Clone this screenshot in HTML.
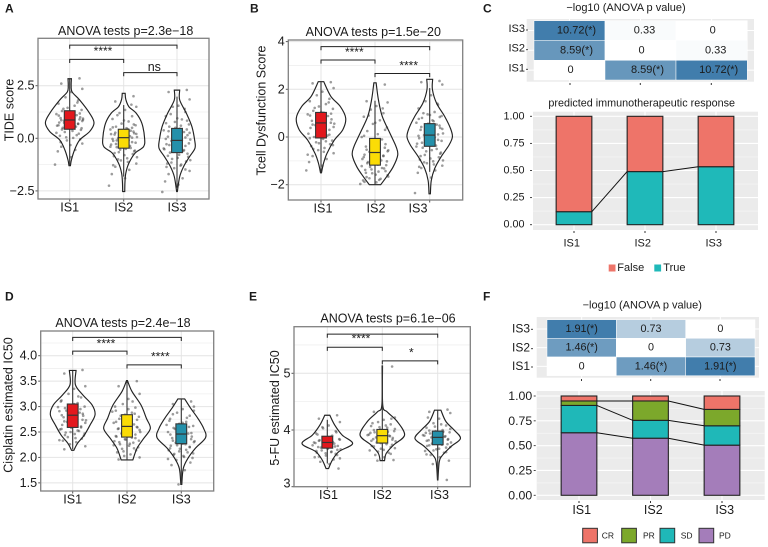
<!DOCTYPE html>
<html>
<head>
<meta charset="utf-8">
<title>Immune subtype comparison panels</title>
<style>
html,body{margin:0;padding:0;background:#fff;width:768px;height:547px;overflow:hidden}
svg{display:block;font-family:"Liberation Sans",Arial,sans-serif}
</style>
</head>
<body>
<svg id="fig" xmlns="http://www.w3.org/2000/svg" width="768" height="547" viewBox="0 0 768 547"></svg>
<script>
const groups = ['IS1', 'IS2', 'IS3'];
const boxColors = ['#e2181d', '#fbdc06', '#2490aa'];
const pointJitter = [.7,-.6,.9,.1,-.3,.6,-.8,.35,-.15,.85,-.55,.2,-.95,.5,-.25,.75,-.65,.05,.95,-.4,.3,-.75,.6,-.1,-.9,.45,-.5,.15,.8,-.35,.65,-.7,.25,-.2,.9,-.6,.4,-.85,.1,-1.05,.55,-.45,.02,.72,-.78,.28,-.12];

/* Panel A: TIDE score */
const aTicks = [-2.5, 0, 2.5];
const aTickLabels = ['−2.5', '0.0', '2.5'];
const aMinorTicks = [-1.25, 1.25, 3.75];
const aPeaks = [1, .86, .74];
const aDensity = [
  [[2.83,.07],[2.5,.06],[2.2,.1],[1.82,.41],[1.19,.82],[.74,1],[.32,.82],[-.08,.41],[-.55,.2],[-1.03,.07],[-1.3,.03]],
  [[2.14,.07],[1.85,.1],[1.5,.25],[1.19,.6],[.71,.87],[0,1],[-.4,.95],[-.7,.55],[-1.2,.24],[-1.66,.1],[-2.1,.06],[-2.53,.05]],
  [[2.29,.15],[1.82,.15],[1.19,.52],[.55,.83],[-.08,.98],[-.47,1],[-.87,.7],[-1.34,.37],[-1.82,.15],[-2.53,.02]]
];
const aBoxes = [[.43,.87,1.31,-1.3,2.83],[-.47,.03,.43,-1.82,1.58],[-.68,-.1,.47,-2.35,1.98]];
const aPoints = [
  [2.85,2.6,2.35,2.2,1.95,1.8,1.65,1.55,1.45,1.35,1.3,1.22,1.15,1.1,1.05,1,.96,.92,.88,.84,.8,.75,.7,.66,.6,.55,.5,.45,.4,.3,.22,.12,.02,-.1,-.25,-.4,-.55,-.62,-.9,-1.25,1.7,1.4,1.28,1.18,1.08,1.02,.98,.9,.86,.82,.78,.72,.68,.62,.58,.52,.48,.42,.35,.26,.15,.05,-.05,-.18,-.32,.94,.74,1.12],
  [2,1.75,1.5,1.35,1.2,1.05,.92,.8,.7,.62,.55,.48,.42,.36,.3,.24,.18,.12,.06,0,-.06,-.12,-.18,-.24,-.3,-.36,-.42,-.5,-.58,-.66,-.75,-.85,-.95,-1.05,-1.2,-1.35,-1.5,-1.7,-1.9,-2.25,1.6,1.1,.85,.66,.52,.44,.38,.32,.27,.21,.15,.09,.03,-.03,-.09,-.15,-.21,-.27,-.33,-.4,-.46,-.54,-.62,-.7,-.8,-.9,-1,-1.12,-1.28,.5,.35,.2,.1,-.1,-.25],
  [2.3,2.2,1.85,1.55,1.5,1.25,1.05,.9,.78,.66,.55,.46,.38,.3,.22,.15,.08,0,-.06,-.12,-.2,-.28,-.36,-.44,-.52,-.6,-.68,-.78,-.88,-.98,-1.1,-1.2,-1.3,-1.42,-1.55,-1.7,-1.9,-2.05,-2.2,-2.55,1.4,1.15,.95,.84,.72,.6,.5,.42,.34,.26,.18,.11,.04,-.03,-.09,-.16,-.24,-.32,-.4,-.48,-.56,-.64,-.73,-.83,-.93,-1.04,-1.15,-1.25,-1.36,-1.48]
];
const aBrackets = [[0,2,4.43],[0,1,3.75],[1,2,3.12]];

/* Panel B: Tcell Dysfunction Score */
const bTicks = [-2, 0, 2, 4];
const bTickLabels = ['−2', '0', '2', '4'];
const bMinorTicks = [-1, 1, 3];
const bPeaks = [1, .92, .92];
const bDensity = [
  [[2.32,.11],[1.7,.4],[1.28,.78],[.79,1],[.3,.88],[-.13,.54],[-.69,.24],[-1.11,.1],[-1.5,.02]],
  [[2.27,.05],[1.56,.15],[.86,.32],[.15,.66],[-.41,.93],[-.76,1],[-1.25,.8],[-1.68,.5],[-2,.25]],
  [[2.42,.13],[1.99,.12],[1.42,.3],[.86,.66],[.37,.91],[.01,1],[-.34,.85],[-.83,.5],[-1.32,.22],[-1.82,.07],[-2.38,.03]]
];
const bBoxes = [[-.04,.59,1.03,-1.5,2.3],[-1.18,-.65,-.06,-2,1.52],[-.39,.08,.56,-1.46,2.05]];
const bPoints = [
  [2.3,2.25,2.05,1.9,1.75,1.6,1.5,1.38,1.28,1.18,1.1,1.02,.95,.88,.8,.74,.68,.62,.56,.5,.44,.38,.3,.22,.14,.06,0,-.08,-.15,-.22,-.3,-.38,-.46,-.55,-.68,-.8,-.92,-1.05,-1.2,-1.4,1.45,1.22,1.05,.98,.9,.84,.7,.6,.52,.42,.34,.25,.1,-.05,-.18,-.26,-.34,-.5,-.62,-.74],
  [2.2,1.5,1.45,1.3,1.15,1,.85,.7,.55,.4,.25,.12,0,-.1,-.2,-.3,-.4,-.5,-.56,-.62,-.68,-.74,-.8,-.86,-.92,-.98,-1.05,-1.12,-1.18,-1.25,-1.32,-1.38,-1.45,-1.52,-1.6,-1.68,-1.75,-1.82,-1.9,-1.97,1.2,.9,.6,.3,.05,-.15,-.35,-.45,-.53,-.6,-.66,-.72,-.78,-.84,-.9,-.96,-1.02,-1.1,-1.16,-1.22,-1.3,-1.36,-1.43,-1.5,-1.58,-1.66,-1.73,-1.8,-1.88],
  [2.35,2.3,2.2,1.75,1.5,1.35,1.2,1.05,.95,.88,.8,.7,.6,.52,.45,.38,.3,.22,.15,.08,.02,-.05,-.12,-.2,-.28,-.36,-.45,-.55,-.65,-.75,-.85,-.95,-1.02,-1.1,-1.2,-1.3,-1.4,-1.5,-1.7,-2.35,1.4,1,.92,.84,.76,.66,.56,.48,.42,.34,.26,.18,.11,.05,-.02,-.08,-.16,-.24,-.32,-.4,-.5,-.6,-.7,-.8,-.9,-.98,-1.06,-1.15,-1.25]
];
const bBrackets = [[0,2,3.79],[0,1,3.23],[1,2,2.66]];

/* Panel D: Cisplatin estimated IC50 */
const dTicks = [1.5, 2, 2.5, 3, 3.5, 4];
const dTickLabels = ['1.5', '2.0', '2.5', '3.0', '3.5', '4.0'];
const dMinorTicks = [1.75, 2.25, 2.75, 3.25, 3.75, 4.25];
const dPeaks = [.92, .96, 1];
const dDensity = [
  [[3.71,.15],[3.43,.12],[3.23,.45],[3.03,.87],[2.84,1],[2.64,.78],[2.44,.52],[2.28,.22],[2.14,.05]],
  [[3.51,.02],[3.3,.21],[3.03,.6],[2.77,.83],[2.57,1],[2.37,.71],[2.18,.43],[1.95,.25]],
  [[3.15,.14],[2.97,.38],[2.77,.68],[2.57,.92],[2.39,1],[2.18,.58],[1.98,.27],[1.78,.08],[1.47,.02]]
];
const dBoxes = [[2.59,2.83,3.05,2.16,3.7],[2.4,2.61,2.84,1.95,3.5],[2.27,2.46,2.66,1.47,3.15]];
const dPoints = [
  [3.72,3.65,3.4,3.35,3.25,3.18,3.12,3.07,3.03,3,2.97,2.94,2.91,2.88,2.85,2.82,2.79,2.76,2.73,2.7,2.67,2.64,2.61,2.58,2.55,2.52,2.49,2.46,2.43,2.4,2.37,2.33,2.3,2.26,2.22,2.16,3.2,3.1,3.05,2.99,2.95,2.92,2.89,2.86,2.83,2.8,2.77,2.74,2.71,2.68,2.65,2.62,2.59,2.56,2.53,2.5,2.47,2.44,2.38,2.34],
  [3.5,3.4,3.25,3.15,3.05,2.98,2.92,2.88,2.84,2.8,2.76,2.72,2.68,2.65,2.62,2.59,2.56,2.53,2.5,2.47,2.44,2.41,2.38,2.35,2.32,2.29,2.26,2.23,2.2,2.17,2.14,2.1,2.06,2.03,2,1.96,3.1,3,2.95,2.9,2.86,2.82,2.78,2.74,2.7,2.66,2.63,2.6,2.57,2.54,2.51,2.48,2.45,2.42,2.39,2.36,2.33,2.3,2.27,2.24,2.18,2.12],
  [3.1,3.05,3,2.95,2.88,2.82,2.76,2.7,2.66,2.62,2.58,2.54,2.5,2.47,2.44,2.41,2.38,2.35,2.32,2.29,2.26,2.23,2.2,2.17,2.14,2.1,2.07,2.03,1.99,1.95,1.9,1.85,1.75,1.47,2.92,2.85,2.78,2.72,2.68,2.64,2.6,2.56,2.52,2.48,2.45,2.42,2.39,2.36,2.33,2.3,2.27,2.24,2.21,2.18,2.15,2.12,2.08,2.05,2.01,1.97]
];
const dBrackets = [[0,2,4.36],[0,1,4.09],[1,2,3.82]];

/* Panel E: 5-FU estimated IC50 */
const eTicks = [3, 4, 5];
const eTickLabels = ['3', '4', '5'];
const eMinorTicks = [3.5, 4.5, 5.5];
const ePeaks = [1, .88, .9];
const eDensity = [
  [[4.26,.1],[4.09,.29],[3.91,.59],[3.76,1],[3.62,.46],[3.47,.2],[3.32,.05]],
  [[5.13,.01],[4.44,.02],[4.32,.22],[4.15,.67],[3.91,1],[3.74,.52],[3.59,.18],[3.46,.1]],
  [[4.35,.14],[4.15,.36],[4,.72],[3.85,1],[3.71,.59],[3.56,.22],[3.44,.07],[3.12,.01]]
];
const eBoxes = [[3.68,3.78,3.89,3.41,4.18],[3.77,3.9,4.01,3.46,5.13],[3.74,3.87,3.98,3.12,4.35]];
const ePoints = [
  [4.26,4.2,4.14,4.08,4.03,3.98,3.94,3.9,3.87,3.84,3.82,3.8,3.78,3.76,3.74,3.72,3.7,3.68,3.66,3.64,3.62,3.6,3.58,3.55,3.52,3.48,3.44,3.4,3.32,4.05,3.96,3.92,3.88,3.85,3.83,3.81,3.79,3.77,3.75,3.73,3.71,3.69,3.67,3.65,3.63,3.61,3.59,3.56,3.53,3.5],
  [5.12,4.32,4.22,4.18,4.14,4.1,4.07,4.04,4.01,3.98,3.96,3.94,3.92,3.9,3.88,3.86,3.84,3.82,3.8,3.78,3.75,3.72,3.7,3.67,3.64,3.6,3.56,3.52,3.47,3.46,4.2,4.12,4.08,4.05,4.02,4,3.97,3.95,3.93,3.91,3.89,3.87,3.85,3.83,3.81,3.79,3.77,3.74,3.71,3.68,3.65,3.62,3.58],
  [4.36,4.32,4.3,4.2,4.12,4.08,4.04,4,3.98,3.96,3.94,3.92,3.9,3.88,3.86,3.84,3.82,3.8,3.78,3.76,3.74,3.72,3.69,3.66,3.63,3.6,3.56,3.52,3.46,3.4,3.12,4.22,4.1,4.06,4.02,3.99,3.97,3.95,3.93,3.91,3.89,3.87,3.85,3.83,3.81,3.79,3.77,3.75,3.73,3.7,3.67,3.64,3.61,3.57]
];
const eBrackets = [[0,2,5.69],[0,1,5.46],[1,2,5.22]];

/* Panel C: heatmap and stacked bars */
const cHeatValues = [[10.72,.33,0],[8.59,0,.33],[0,8.59,10.72]];
const cHeatLabels = [['10.72(*)','0.33','0'],['8.59(*)','0','0.33'],['0','8.59(*)','10.72(*)']];
const cStackNames = ['True', 'False'];
const cStackValues = [[.12,.88],[.49,.51],[.535,.465]];
const cStackColors = ['#1fb9b9', '#ee7469'];

/* Panel F: heatmap and stacked bars */
const fHeatValues = [[1.91,.73,0],[1.46,0,.73],[0,1.46,1.91]];
const fHeatLabels = [['1.91(*)','0.73','0'],['1.46(*)','0','0.73'],['0','1.46(*)','1.91(*)']];
const fStackNames = ['PD', 'SD', 'PR', 'CR'];
const fStackValues = [[.63,.275,.045,.05],[.575,.18,.195,.05],[.505,.195,.165,.135]];
const fStackColors = ['#a47dba', '#1fb8b8', '#7ca82b', '#ee7469'];
const stackTicks = [0, .25, .5, .75, 1];
const stackMinorTicks = [.125, .375, .625, .875];
const stackTickLabels = ['0.00', '0.25', '0.50', '0.75', '1.00'];

const svg = document.getElementById('fig');
const NS = 'http://www.w3.org/2000/svg';

function shape(tag, attrs, parent) {
  const node = document.createElementNS(NS, tag);
  for (const k in attrs) node.setAttribute(k, attrs[k]);
  (parent || svg).appendChild(node);
  return node;
}
function label(str, x, y, size, anchor, rot, weight) {
  const attrs = {x: x, y: y, 'font-size': size, 'text-anchor': anchor || 'middle', fill: '#1a1a1a', 'dominant-baseline': 'central'};
  if (rot) attrs.transform = 'rotate(-90 ' + x + ' ' + y + ')';
  if (weight) attrs['font-weight'] = weight;
  const t = shape('text', attrs);
  t.textContent = str;
  return t;
}
function linearScale(v0, p0, v1, p1) {
  return function (v) { return p0 + (v - v0) * (p1 - p0) / (v1 - v0); };
}
function smoothSide(pts) {
  let d = '';
  for (let i = 0; i < pts.length - 1; i++) {
    const p0 = pts[Math.max(i - 1, 0)], p1 = pts[i], p2 = pts[i + 1], p3 = pts[Math.min(i + 2, pts.length - 1)];
    const c1 = [p1[0] + (p2[0] - p0[0]) / 6, p1[1] + (p2[1] - p0[1]) / 6];
    const c2 = [p2[0] - (p3[0] - p1[0]) / 6, p2[1] - (p3[1] - p1[1]) / 6];
    d += 'C' + c1[0].toFixed(2) + ' ' + c1[1].toFixed(2) + ' ' + c2[0].toFixed(2) + ' ' + c2[1].toFixed(2) + ' ' + p2[0].toFixed(2) + ' ' + p2[1].toFixed(2);
  }
  return d;
}

function violinPanel(cfg) {
  const y = linearScale(cfg.v0, cfg.p0, cfg.v1, cfg.p1);
  const bg = shape('rect', {x: cfg.left, y: cfg.top, width: cfg.right - cfg.left, height: cfg.bottom - cfg.top, fill: '#fff'});
  
  
  cfg.minor.forEach(function (v) {
    const g = shape('line', {x1: cfg.left, x2: cfg.right, y1: y(v), y2: y(v), stroke: '#efefef', 'stroke-width': .8});
    
    
  });
  cfg.ticks.forEach(function (v, i) {
    const g = shape('line', {x1: cfg.left, x2: cfg.right, y1: y(v), y2: y(v), stroke: '#e4e4e4', 'stroke-width': 1});
    
    
    const tk = shape('line', {x1: cfg.left - 2.5, x2: cfg.left, y1: y(v), y2: y(v), stroke: '#555', 'stroke-width': 1});
    
    
    const t = label(cfg.tickLabels[i], cfg.left - 3.5, Math.min(y(v), cfg.bottom - 3), 12.6, 'end');
    
    
  });
  groups.forEach(function (gName, i) {
    const cx = cfg.xs[i];
    const g = shape('line', {x1: cx, x2: cx, y1: cfg.top, y2: cfg.bottom, stroke: '#e4e4e4', 'stroke-width': 1});
    
    
    const tk = shape('line', {x1: cx, x2: cx, y1: cfg.bottom, y2: cfg.bottom + 2.5, stroke: '#555', 'stroke-width': 1});
    
    
    const t = label(gName, cfg.labelXs[i], cfg.bottom + 8.5, 12.6);
    
    
  });
  groups.forEach(function (gName, i) {
    const cx = cfg.xs[i];
    cfg.points[i].forEach(function (v, j) {
      const c = shape('circle', {cx: cx + pointJitter[j % pointJitter.length] * 14, cy: y(v), r: 1.3, fill: '#3a3a3a', 'fill-opacity': .5});
      
      
    });
    const dens = cfg.density[i];
    const w = cfg.halfWidth * cfg.peaks[i];
    const right = dens.map(function (d) { return [cx + d[1] * w, y(d[0])]; });
    const left = dens.map(function (d) { return [cx - d[1] * w, y(d[0])]; }).reverse();
    const d = 'M' + right[0][0] + ' ' + right[0][1] + smoothSide(right) + 'L' + left[0][0] + ' ' + left[0][1] + smoothSide(left) + 'Z';
    const vio = shape('path', {d: d, fill: 'none', stroke: '#222', 'stroke-width': 1.15});
    
    
    const b = cfg.boxes[i];
    const wh = shape('line', {x1: cx, x2: cx, y1: y(b[3]), y2: y(b[4]), stroke: '#333', 'stroke-width': 1.1});
    
    
    const r = shape('rect', {x: cx - 5.4, y: y(b[2]), width: 10.8, height: y(b[0]) - y(b[2]), fill: boxColors[i], stroke: '#333', 'stroke-width': 1.1});
    
    
    const m = shape('line', {x1: cx - 5.4, x2: cx + 5.4, y1: y(b[1]), y2: y(b[1]), stroke: '#333', 'stroke-width': 1.2});
    
    
  });
  cfg.brackets.forEach(function (br) {
    const py = y(br[2]);
    const p = shape('path', {d: 'M' + cfg.xs[br[0]] + ' ' + (py + 3.6) + 'V' + py + 'H' + cfg.xs[br[1]] + 'V' + (py + 3.6), fill: 'none', stroke: '#222', 'stroke-width': 1});
    
    
  });
  cfg.sig.forEach(function (s) {
    const t = label(s[0], s[1], s[2], s[0] === 'ns' ? 12.5 : 12);
    
    
  });
  const border = shape('rect', {x: cfg.left, y: cfg.top, width: cfg.right - cfg.left, height: cfg.bottom - cfg.top, fill: 'none', stroke: '#808080', 'stroke-width': 1.3});
  
  
  const title = label(cfg.title, cfg.titleX, cfg.titleY, 12.5);
  
  
  const yt = label(cfg.yTitle, cfg.yTitleX, cfg.yTitleY, 12.5, 'middle', true);
  
  
}

function heatmap(cfg) {
  const bg = shape('rect', {x: cfg.bgLeft, y: cfg.bgTop, width: cfg.bgRight - cfg.bgLeft, height: cfg.bgBottom - cfg.bgTop, fill: '#ebebeb'});
  
  
  cfg.ys.slice(0, 3).forEach(function (yy, ri) {
    const g = shape('line', {x1: cfg.bgLeft, x2: cfg.bgRight, y1: (yy + cfg.ys[ri + 1]) / 2, y2: (yy + cfg.ys[ri + 1]) / 2, stroke: '#fff', 'stroke-width': 1});
    
    
  });
  cfg.xs.slice(0, 3).forEach(function (xx, ci) {
    const g = shape('line', {x1: (xx + cfg.xs[ci + 1]) / 2, x2: (xx + cfg.xs[ci + 1]) / 2, y1: cfg.bgTop, y2: cfg.bgBottom, stroke: '#fff', 'stroke-width': 1});
    
    
  });
  const maxV = Math.max.apply(null, cfg.values.flat());
  cfg.values.forEach(function (row, ri) {
    row.forEach(function (v, ci) {
      const f = v / maxV;
      const col = 'rgb(' + Math.round(255 - f * 190) + ',' + Math.round(255 - f * 130) + ',' + Math.round(255 - f * 83) + ')';
      const c = shape('rect', {x: cfg.xs[ci], y: cfg.ys[ri], width: cfg.xs[ci + 1] - cfg.xs[ci], height: cfg.ys[ri + 1] - cfg.ys[ri], fill: col, stroke: '#fff', 'stroke-width': .5});
      
      
      const str = cfg.labels[ri][ci];
      const t = label(str, (cfg.xs[ci] + cfg.xs[ci + 1]) / 2 + cfg.shift(str), (cfg.ys[ri] + cfg.ys[ri + 1]) / 2, cfg.textSize);
      
      
    });
  });
  ['IS3', 'IS2', 'IS1'].forEach(function (n, i) {
    const t = label(n, cfg.rowLabelX, cfg.rowLabelYs[i], cfg.rowSize, 'end');
    
    
    const tk = shape('line', {x1: cfg.rowLabelX + 1, x2: cfg.rowLabelX + 3, y1: cfg.rowLabelYs[i] + 1, y2: cfg.rowLabelYs[i] + 1, stroke: '#333', 'stroke-width': .9});
    
    
  });
  cfg.tickXs.forEach(function (x) {
    const tk = shape('line', {x1: x, x2: x, y1: cfg.tickY, y2: cfg.tickY + 2, stroke: '#333', 'stroke-width': 1});
    
    
  });
  const title = label(cfg.title, cfg.titleX, cfg.titleY, 11);
  
  
}

function stackedBars(cfg) {
  const y = linearScale(0, cfg.y0, 1, cfg.y1);
  const bg = shape('rect', {x: cfg.left, y: cfg.top, width: cfg.right - cfg.left, height: cfg.bottom - cfg.top, fill: '#ebebeb'});
  
  
  stackMinorTicks.forEach(function (v) {
    const g = shape('line', {x1: cfg.left, x2: cfg.right, y1: y(v), y2: y(v), stroke: '#f6f6f6', 'stroke-width': .7});
    
    
  });
  cfg.xs.forEach(function (x) {
    const g = shape('line', {x1: x, x2: x, y1: cfg.top, y2: cfg.bottom, stroke: '#fff', 'stroke-width': 1.1});
    
    
  });
  stackTicks.forEach(function (v, i) {
    const g = shape('line', {x1: cfg.left, x2: cfg.right, y1: y(v), y2: y(v), stroke: '#fff', 'stroke-width': 1.1});
    
    
    const tk = shape('line', {x1: cfg.left - 3, x2: cfg.left - 1, y1: y(v), y2: y(v), stroke: '#333', 'stroke-width': .9});
    
    
    const t = label(stackTickLabels[i], cfg.left - cfg.labelGap, y(v), cfg.tickSize, 'end');
    
    
  });
  const barW = cfg.barWidth;
  groups.forEach(function (gName, i) {
    const tk = shape('line', {x1: cfg.xs[i], x2: cfg.xs[i], y1: cfg.bottom + 1, y2: cfg.bottom + 3, stroke: '#333', 'stroke-width': 1});
    
    
    const t = label(gName, cfg.labelXs[i], cfg.labelY, cfg.xSize);
    
    
    let base = 0;
    cfg.values[i].forEach(function (v, s) {
      const r = shape('rect', {x: cfg.xs[i] - barW / 2, y: y(base + v), width: barW, height: y(base) - y(base + v), fill: cfg.colors[s], stroke: '#222', 'stroke-width': 1.1});
      
      
      base += v;
    });
  });
  for (let i = 0; i < 2; i++) {
    let a = 0, b = 0;
    for (let s = 0; s < cfg.names.length - 1; s++) {
      a += cfg.values[i][s];
      b += cfg.values[i + 1][s];
      const l = shape('line', {x1: cfg.xs[i] + barW / 2, x2: cfg.xs[i + 1] - barW / 2, y1: y(a), y2: y(b), stroke: '#111', 'stroke-width': 1});
      
      
    }
  }
}

violinPanel({title: 'ANOVA tests p=2.3e−18', titleX: 125.7, titleY: 31, yTitle: 'TIDE score', yTitleX: 9.5, yTitleY: 110,
  left: 38, right: 209, top: 38.3, bottom: 199, v0: 0, p0: 138.3, v1: 2.5, p1: 85.7, xs: [69.7,123.7,177], labelXs: [69.7,123.7,177],
  ticks: aTicks, tickLabels: aTickLabels, minor: aMinorTicks, density: aDensity, peaks: aPeaks, halfWidth: 24.3, boxes: aBoxes, points: aPoints, brackets: aBrackets,
  sig: [['****',103,51],['ns',154.3,67]]});
violinPanel({title: 'ANOVA tests p=1.5e−20', titleX: 373.3, titleY: 32, yTitle: 'Tcell Dysfunction Score', yTitleX: 261.7, yTitleY: 110.5,
  left: 288.3, right: 462.7, top: 40, bottom: 200, v0: 0, p0: 137, v1: 2, p1: 89.3, xs: [321,375,429.7], labelXs: [323,376,418],
  ticks: bTicks, tickLabels: bTickLabels, minor: bMinorTicks, density: bDensity, peaks: bPeaks, halfWidth: 24.7, boxes: bBoxes, points: bPoints, brackets: bBrackets,
  sig: [['****',354.3,52],['****',408.7,65.7]]});
violinPanel({title: 'ANOVA tests p=2.4e−18', titleX: 123, titleY: 323, yTitle: 'Cisplatin estimated IC50', yTitleX: 8.5, yTitleY: 405,
  left: 40.7, right: 213.7, top: 331, bottom: 491, v0: 2.5, p0: 432, v1: 4, p1: 355.7, xs: [72.7,127,181.3], labelXs: [72.7,127,181.3],
  ticks: dTicks, tickLabels: dTickLabels, minor: dMinorTicks, density: dDensity, peaks: dPeaks, halfWidth: 24.3, boxes: dBoxes, points: dPoints, brackets: dBrackets,
  sig: [['****',106,343.3],['****',160.3,356.7]]});
violinPanel({title: 'ANOVA tests p=6.1e−06', titleX: 388, titleY: 318.5, yTitle: '5-FU  estimated IC50', yTitleX: 275, yTitleY: 408,
  left: 294, right: 470.3, top: 326.7, bottom: 486.7, v0: 4, p0: 430, v1: 5, p1: 373.3, xs: [327.3,382.3,437.7], labelXs: [328.5,382.3,439.5],
  ticks: eTicks, tickLabels: eTickLabels, minor: eMinorTicks, density: eDensity, peaks: ePeaks, halfWidth: 25.3, boxes: eBoxes, points: ePoints, brackets: eBrackets,
  sig: [['****',361,338.7],['*',411.3,352.3]]});

heatmap({title: '−log10 (ANOVA p value)', titleX: 626, titleY: 8, bgLeft: 526.7, bgRight: 754, bgTop: 19, bgBottom: 81.7,
  xs: [534,605,676,747.3], ys: [20.7,40.3,60.3,80], values: cHeatValues, labels: cHeatLabels, textSize: 11,
  shift: function (s) { return s.indexOf('*') >= 0 ? 7 : (s === '0' ? 1 : 4); },
  rowLabelX: 525, rowLabelYs: [29,48.7,68.3], rowSize: 11, tickXs: [570,640.3,711.3], tickY: 83});
heatmap({title: '−log10 (ANOVA p value)', titleX: 642.3, titleY: 305.7, bgLeft: 536.7, bgRight: 759, bgTop: 317, bgBottom: 377.7,
  xs: [547,616.3,685.7,755], ys: [319.7,338.3,357,375.7], values: fHeatValues, labels: fHeatLabels, textSize: 10.8,
  shift: function () { return 0; },
  rowLabelX: 530, rowLabelYs: [328.3,347.7,366], rowSize: 12, tickXs: [581.5,650.7,720], tickY: 379});

stackedBars({left: 533, right: 758, top: 111.7, bottom: 230, y0: 224.7, y1: 116.3, xs: [574,645,716], barWidth: 35.7, values: cStackValues, colors: cStackColors, names: cStackNames,
  labelGap: 8.5, tickSize: 10.8, labelXs: [571.7,642.7,713.7], labelY: 243.3, xSize: 11});
stackedBars({left: 536.7, right: 764.7, top: 391, bottom: 500, y0: 495.3, y1: 396, xs: [579,650.5,722], barWidth: 35.7, values: fStackValues, colors: fStackColors, names: fStackNames,
  labelGap: 4.5, tickSize: 12.3, labelXs: [581.7,653.3,724.7], labelY: 510, xSize: 12.5});

const cTitle = label('predicted immunotherapeutic response', 641.7, 103.3, 10.8);



const legendC = [['False','#ee7469',608.7,617.3],['True','#1fb9b9',654.3,663.3]];
legendC.forEach(function (e) {
  const k = shape('rect', {x: e[2], y: 264.5, width: 6.8, height: 7, fill: e[1]});
  
  
  const t = label(e[0], e[3], 268, 11, 'start');
  
  
});
const legendF = [['CR','#ee7469',582.7,601.7],['PR','#7ca82b',621.7,643],['SD','#1fb8b8',660,680.7],['PD','#a47dba',699,719]];
legendF.forEach(function (e) {
  const k = shape('rect', {x: e[2], y: 528.3, width: 14.7, height: 14.5, fill: e[1], stroke: '#333', 'stroke-width': 1});
  
  
  const t = label(e[0], e[3], 535.5, 8.5, 'start');
  
  
});

const panelLetters = [['A',5,8.5],['B',250,8.5],['C',483,8.5],['D',5,296.5],['E',249,296.5],['F',483,296.5]];
panelLetters.forEach(function (p) {
  const t = label(p[0], p[1], p[2], 12, 'start', false, 'bold');
  
  
});
</script>
</body>
</html>
